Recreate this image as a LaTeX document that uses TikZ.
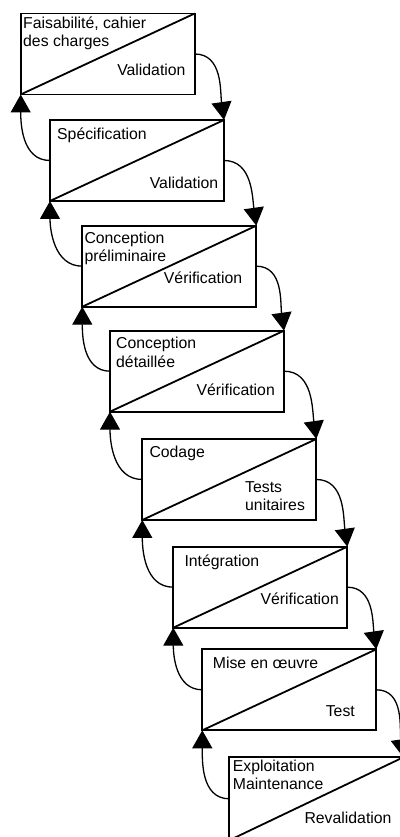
\documentclass[tikz,border=0pt]{standalone}
\usepackage{fontspec}
\setmainfont{Liberation Sans}
\usetikzlibrary{arrows.meta}

\tikzset{
  etape/.style={draw, line width=1.8pt, minimum width=174pt, minimum height=81pt,
    inner sep=0pt, outer sep=0pt, anchor=north west},
  texte/.style={font=\fontsize{15.8}{18.3}\selectfont, inner sep=0pt, align=left},
  fleche/.style={line width=1.3pt, -{Triangle[length=18pt,width=20pt]}}
}

\begin{document}
\begin{tikzpicture}[x=1pt,y=1pt]
        \useasboundingbox (0,0) rectangle (399,837);
        % les etapes
        \node[etape] (b1) at (20.7,823.5) {};
        \node[etape] (b2) at (50,717) {};
        \node[etape] (b3) at (82.3,611.3) {};
        \node[etape] (b4) at (110,506.3) {};
        \node[etape] (b5) at (142.3,398) {};
        \node[etape] (b6) at (173.3,290.3) {};
        \node[etape] (b7) at (202.3,187.7) {};
        \node[etape, minimum height=83pt] (b8) at (229.3,79.7) {};
        \foreach \b in {b1,b2,b3,b4,b5,b6,b7,b8}
          \draw[line width=1.8pt] (\b.south west) -- (\b.north east);
        % textes (base = derniere ligne)
        \node[texte, anchor=base west] (t1) at (23,790.4) {Faisabilité, cahier\\des charges};
        \node[texte, anchor=base east] (v1) at (185.7,761) {Validation};
        \node[texte, anchor=base west] (t2) at (57,697) {Spécification};
        \node[texte, anchor=base east] (v2) at (218.3,648) {Validation};
        \node[texte, anchor=base west] (t3) at (84.3,575.3) {Conception\\préliminaire};
        \node[texte, anchor=base east] (v3) at (242.3,553) {Vérification};
        \node[texte, anchor=base west] (t4) at (116,469.7) {Conception\\détaillée};
        \node[texte, anchor=base east] (v4) at (275,441) {Vérification};
        \node[texte, anchor=base west] (t5) at (149.3,379.7) {Codage};
        \node[texte, anchor=base west] (v5) at (245,326.3) {Tests\\unitaires};
        \node[texte, anchor=base west] (t6) at (184.3,270.3) {Intégration};
        \node[texte, anchor=base east] (v6) at (339,232.7) {Vérification};
        \node[texte, anchor=base west] (t7) at (212.7,168.7) {Mise en œuvre};
        \node[texte, anchor=base east] (v7) at (355,120.3) {Test};
        \node[texte, anchor=base west] (t8) at (232.7,47) {Exploitation\\Maintenance};
        \node[texte, anchor=base east] (v8) at (391.7,13) {Revalidation};
        % fleches
        \foreach \a/\b in {b1/b2,b2/b3,b3/b4,b4/b5,b5/b6,b6/b7,b7/b8} {
          \draw[fleche] (\a.east) to[out=0,in=98] (\b.north east);
          \draw[fleche] (\b.west) to[out=180,in=-90] (\a.south west);
        }
      \end{tikzpicture}
\end{document}
